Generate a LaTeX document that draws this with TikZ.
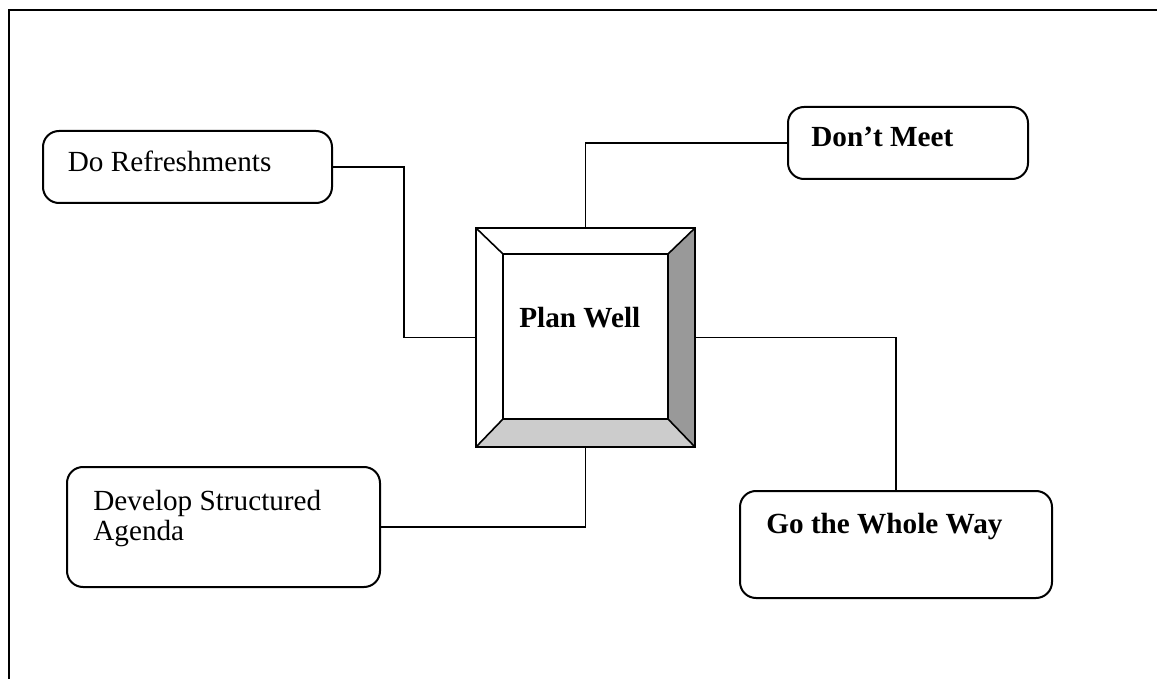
\documentclass[tikz,border=0pt]{standalone}
\usepackage{fontspec}
\setmainfont{Liberation Serif}
\usepackage{tikz}
\usetikzlibrary{positioning,calc}

\tikzset{
  topicbox/.style={draw,line width=1pt,rounded corners=8pt,inner sep=0pt},
  topictext/.style={anchor=base west,inner sep=0pt,font=\fontsize{14.6}{15}\selectfont,align=left},
  link/.style={line width=0.8pt}
}

\begin{document}
\begin{tikzpicture}[x=0.5pt,y=-0.5pt]
\clip (0,0) rectangle (1157,679);
\draw[line width=1pt] (9,10) rectangle (1175,695);
% outer boxes
\node[topicbox,minimum width=144.5pt,minimum height=36pt] (ref) at (187.5,167) {};
\node[topicbox,minimum width=120pt,minimum height=36pt] (dont) at (908,143) {};
\node[topicbox,minimum width=156.5pt,minimum height=60pt] (agenda) at (223.5,527) {};
\node[topicbox,minimum width=156pt,minimum height=53.5pt] (go) at (896,544.5) {};
\node[topictext] (reftext) at (67.5,172) {Do Refreshments};
\node[topictext] (donttext) at (811,147) {\bfseries Don’t Meet};
\node[topictext] (agendatext) at (93,540) {Develop Structured\\Agenda};
\node[topictext] (gotext) at (766,533) {\bfseries Go the Whole Way};
% bevelled centre square
\fill[black!40] (695,228) -- (695,447) -- (668,419) -- (668,254) -- cycle;
\fill[black!20] (476,447) -- (695,447) -- (668,419) -- (503,419) -- cycle;
\draw[line width=0.8pt] (476,228) rectangle (695,447);
\draw[line width=0.8pt] (503,254) rectangle (668,419);
\draw[line width=0.8pt] (476,228) -- (503,254) (695,228) -- (668,254)
  (476,447) -- (503,419) (695,447) -- (668,419);
\node[inner sep=0pt,minimum size=109.5pt] (plan) at (585.5,337.5) {};
\node[topictext] (plantext) at (519,328) {\bfseries Plan Well};
% connectors
\draw[link] (ref.east) -- ++(71,0) |- (plan.west);
\draw[link] (plan.north) |- (dont.west);
\draw[link] (plan.east) -| (go.north);
\draw[link] (plan.south) |- (agenda.east);
\end{tikzpicture}
\end{document}
